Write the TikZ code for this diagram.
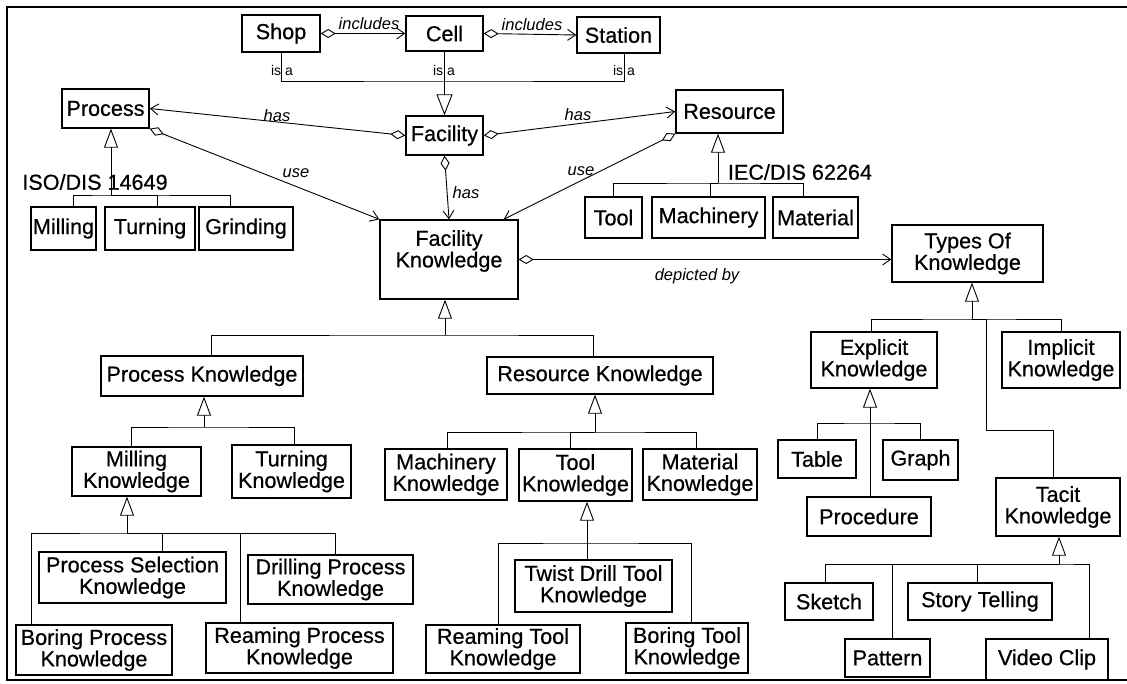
\documentclass[tikz,border=0pt]{standalone}
\usepackage{fontspec}
\setmainfont{Liberation Sans}
\newfontfamily\scanfont{Liberation Sans}[FakeBold=0.6]
\usetikzlibrary{arrows.meta}

\begin{document}
\begin{tikzpicture}[x=1pt, y=-1pt,
  box/.style={draw, line width=1.4pt, inner sep=1pt, align=center, font=\scanfont\fontsize{21.6}{21.5}\selectfont},
  std/.style={inner sep=0pt, font=\scanfont\fontsize{21.6}{24}\selectfont},
  lbl/.style={inner sep=0pt, font=\fontsize{16.5}{18}\selectfont\itshape},
  isa/.style={inner sep=0pt, font=\fontsize{14}{16}\selectfont},
  link/.style={line width=0.9pt},
  assoc/.style={link, {Diamond[open, length=15pt, width=9pt]}-{Straight Barb[length=8pt, width=11pt]}},
  gen/.style={link, -{Triangle[open, length=19pt, width=14pt]}},
  biggen/.style={link, -{Triangle[open, length=21pt, width=16pt]}}]
  \useasboundingbox (0,0) rectangle (1127,684);

  % Frame
  \draw[line width=2pt] (1127,7) -- (7,7) -- (7,680) -- (1127,680);

  % Shop, cell, station
  \node[box, minimum width=78, minimum height=37] (shop) at (281,33.5) {Shop};
  \node[box, minimum width=77, minimum height=35] (cell) at (444.5,33.5) {Cell};
  \node[box, minimum width=83, minimum height=36] (station) at (618.5,35) {Station};
  \draw[assoc] (shop.east) -- (cell.west);
  \draw[assoc] (cell.east) -- (station.west);
  \node[lbl] (incl1) at (369,24) {includes};
  \node[lbl] (incl2) at (532,25) {includes};

  % Facility and its parts
  \node[box, minimum width=87, minimum height=39] (process) at (105.5,108.5) {Process};
  \node[box, minimum width=77, minimum height=39] (facility) at (444.5,135.5) {Facility};
  \node[box, minimum width=107, minimum height=43] (resource) at (729.5,111.5) {Resource};

  % is a
  \coordinate (isabar) at (444,81);
  \draw[link] (shop.south) |- (isabar) -| ([xshift=5.5]station.south);
  \draw[biggen] (cell.south) -- (facility.north);
  \node[isa] (isa1) at (282,70) {is a};
  \node[isa] (isa2) at (444,70) {is a};
  \node[isa] (isa3) at (624,71) {is a};

  \draw[assoc] (facility.west) -- (process.east);
  \draw[assoc] (facility.east) -- (resource.west);
  \node[lbl] (has1) at (277,116) {has};
  \node[lbl] (has2) at (578,115) {has};

  % Process types (ISO)
  \node[std] (iso) at (95,182) {ISO/DIS 14649};
  \node[box, minimum width=65, minimum height=43] (milling) at (63.5,228.5) {Milling};
  \node[box, minimum width=90, minimum height=43] (turning) at (150,228.5) {Turning};
  \node[box, minimum width=94, minimum height=43] (grinding) at (246,228.5) {Grinding};
  \coordinate (procbar) at (111,195);
  \draw[link] ([xshift=9.5]milling.north) |- (procbar) -| ([xshift=-16]grinding.north);
  \draw[link] ([xshift=7]turning.north) |- (procbar);
  \draw[gen] (procbar) -- (procbar |- process.south);

  % Resource types (IEC)
  \node[std] (iec) at (800,172) {IEC/DIS 62264};
  \node[box, minimum width=57, minimum height=41] (tool) at (613.5,217.5) {Tool};
  \node[box, minimum width=113, minimum height=41] (machinery) at (708.5,217.5) {Machinery};
  \node[box, minimum width=85, minimum height=41] (material) at (815.5,217.5) {Material};
  \coordinate (resbar) at (718,183);
  \draw[link] (tool.north) |- (resbar) -| ([xshift=-12.5]material.north);
  \draw[link] ([xshift=1.5]machinery.north) |- (resbar);
  \draw[gen] (resbar) -- (resbar |- resource.south);

  % Facility knowledge
  \node[box, minimum width=138, minimum height=79] (fk) at (449,259.5) {Facility\\Knowledge\\\mbox{}};
  \node[box, minimum width=151, minimum height=57] (tok) at (967.5,253.5) {Types Of\\Knowledge};
  \draw[assoc] (facility.south) -- (fk.north);
  \draw[assoc] (process.south east) -- (fk.north west);
  \draw[assoc] (resource.south west) -- ([xshift=-15]fk.north east);
  \draw[assoc] (fk.east) -- (fk.east -| tok.west);
  \node[lbl] (has3) at (466,193) {has};
  \node[lbl] (use1) at (296,173) {use};
  \node[lbl] (use2) at (581,171) {use};
  \node[lbl] (depicted) at (697,276) {depicted by};

  % Process and resource knowledge
  \node[box, minimum width=202, minimum height=40] (pk) at (202,376) {Process Knowledge};
  \node[box, minimum width=226, minimum height=37] (rk) at (600,375.5) {Resource Knowledge};
  \coordinate (fkbar) at (445,335);
  \draw[link] ([xshift=9]pk.north) |- (fkbar) -| ([xshift=-7]rk.north);
  \draw[gen] (fkbar) -- (fkbar |- fk.south);

  \node[box, minimum width=129, minimum height=49] (mk) at (136.5,471.5) {Milling\\Knowledge};
  \node[box, minimum width=119, minimum height=53] (tk) at (291.5,471.5) {Turning\\Knowledge};
  \coordinate (pkbar) at (204,427);
  \draw[link] ([xshift=-5.5]mk.north) |- (pkbar) -| ([xshift=2.5]tk.north);
  \draw[gen] (pkbar) -- (pkbar |- pk.south);

  \node[box, minimum width=122, minimum height=51] (mack) at (446,474.5) {Machinery\\Knowledge};
  \node[box, minimum width=113, minimum height=52] (toolk) at (575.5,475) {Tool\\Knowledge};
  \node[box, minimum width=114, minimum height=51] (matk) at (700,474.5) {Material\\Knowledge};
  \coordinate (rkbar) at (595,432);
  \draw[link] ([xshift=1]mack.north) |- (rkbar) -| ([xshift=-4]matk.north);
  \draw[link] ([xshift=-5.5]toolk.north) |- (rkbar);
  \draw[gen] (rkbar) -- (rkbar |- rk.south);

  % Milling knowledge
  \node[box, minimum width=187, minimum height=51] (psk) at (132.5,577.5) {Process Selection\\Knowledge};
  \node[box, minimum width=165, minimum height=49] (dpk) at (330.5,579.5) {Drilling Process\\Knowledge};
  \node[box, minimum width=156, minimum height=50] (bpk) at (94,650) {Boring Process\\Knowledge};
  \node[box, minimum width=187, minimum height=50] (rpk) at (299.5,648) {Reaming Process\\Knowledge};
  \coordinate (mkbar) at (127,533);
  \draw[link] ([xshift=-63]bpk.north) |- (mkbar) -| ([xshift=4.5]dpk.north);
  \draw[link] ([xshift=29.5]psk.north) |- (mkbar);
  \draw[link] ([xshift=-59.5]rpk.north) |- (mkbar);
  \draw[gen] (mkbar) -- (mkbar |- mk.south);

  % Tool knowledge
  \node[box, minimum width=157, minimum height=52] (tdk) at (593.5,586) {Twist Drill Tool\\Knowledge};
  \node[box, minimum width=154, minimum height=48] (rtk) at (503,649) {Reaming Tool\\Knowledge};
  \node[box, minimum width=122, minimum height=50] (btk) at (687,648) {Boring Tool\\Knowledge};
  \coordinate (tkbar) at (587,543);
  \draw[link] ([xshift=-5]rtk.north) |- (tkbar) -| ([xshift=4]btk.north);
  \draw[link] ([xshift=-6.5]tdk.north) -- (tkbar);
  \draw[gen] (tkbar) -- (tkbar |- toolk.south);

  % Types of knowledge
  \node[box, minimum width=126, minimum height=56] (explicit) at (874,360) {Explicit\\Knowledge};
  \node[box, minimum width=118, minimum height=56] (implicit) at (1061,360) {Implicit\\Knowledge};
  \node[box, minimum width=124, minimum height=58] (tacit) at (1058,507) {Tacit\\Knowledge};
  \coordinate (tokbar) at (972,319);
  \coordinate (tacitbend) at (986,430);
  \draw[link] ([xshift=-3]explicit.north) |- (tokbar) -| (implicit.north);
  \draw[link] ([xshift=-5]tacit.north) |- (tacitbend) |- (tokbar);
  \draw[gen] (tokbar) -- (tokbar |- tok.south);

  \node[box, minimum width=78, minimum height=38] (table) at (817,459) {Table};
  \node[box, minimum width=75, minimum height=40] (graph) at (920.5,460) {Graph};
  \node[box, minimum width=124, minimum height=39] (procedure) at (869,516.5) {Procedure};
  \coordinate (expbar) at (870,423);
  \draw[link] (table.north) |- (expbar) -| (graph.north);
  \draw[gen] (procedure.north -| expbar) -- (expbar |- explicit.south);

  \node[box, minimum width=88, minimum height=37] (sketch) at (829,601.5) {Sketch};
  \node[box, minimum width=144, minimum height=37] (story) at (980,601.5) {Story Telling};
  \node[box, minimum width=85, minimum height=38] (pattern) at (887.5,658) {Pattern};
  \node[box, minimum width=122, minimum height=41] (video) at (1047,659.5) {Video Clip};
  \coordinate (tacbar) at (1059,564);
  \draw[link] ([xshift=-4]sketch.north) |- (tacbar) -| ([xshift=42]video.north);
  \draw[link] ([xshift=4.5]pattern.north) |- (tacbar);
  \draw[link] ([xshift=-3]story.north) |- (tacbar);
  \draw[gen] (tacbar) -- (tacbar |- tacit.south);
\end{tikzpicture}
\end{document}
